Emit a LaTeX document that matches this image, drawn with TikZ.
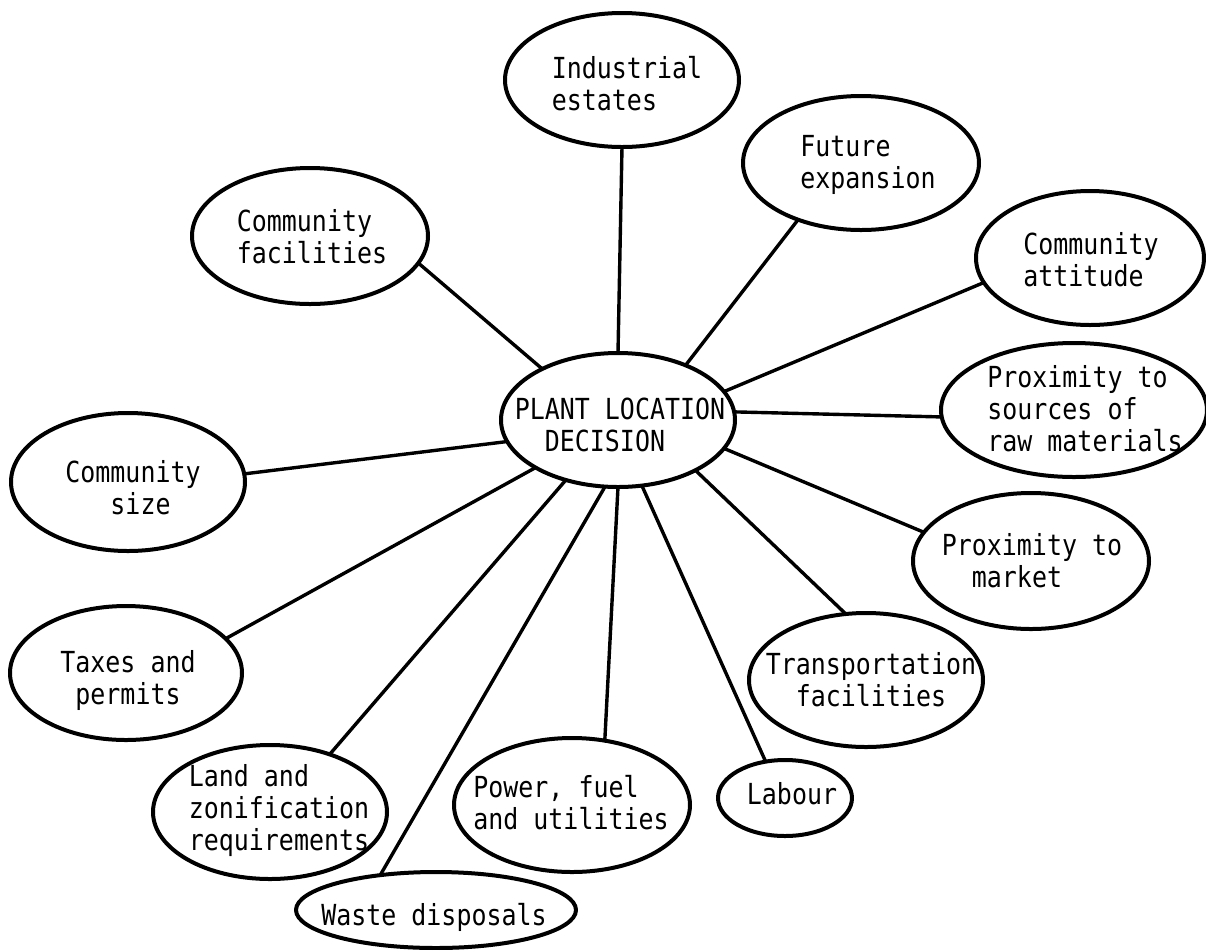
\documentclass[tikz,border=0pt]{standalone}
\usepackage{fontspec}
\newfontfamily\typefont[FakeStretch=0.86]{DejaVu Sans Mono}
\usetikzlibrary{shapes.geometric}

\tikzset{
  blob/.style 2 args={ellipse, draw, line width=2pt, inner sep=0pt, outer sep=0pt,
    minimum width=#1pt, minimum height=#2pt},
  txt/.style={align=left, inner sep=0pt, font=\typefont\fontsize{14.5}{16}\selectfont},
  link/.style={line width=1.7pt}
}

\begin{document}
\begin{tikzpicture}[line cap=round, line join=round, x=0.5pt, y=-0.5pt]
  \useasboundingbox (0,0) rectangle (1206,949);
  % the decision in the middle
  \node[blob={117}{67}] (ctr) at (618,420) {};
  \node[txt] (ctr-t) at (620,425) {PLANT LOCATION\\\phantom{xx}DECISION};
  % factors around it, clockwise from the top
  \node[blob={117}{67}] (ind) at (622,80) {};
  \node[txt] (ind-t) at (627,84) {Industrial\\estates};
  \node[blob={118}{67}] (fut) at (861,163) {};
  \node[txt] (fut-t) at (868,165) {Future\\expansion};
  \node[blob={114}{67}] (att) at (1090,258) {};
  \node[txt] (att-t) at (1091,260) {Community\\attitude};
  \node[blob={133}{67}] (raw) at (1074,410) {};
  \node[txt] (raw-t) at (1085,409) {Proximity to\\sources of\\raw materials};
  \node[blob={118}{68}] (mkt) at (1031,561) {};
  \node[txt] (mkt-t) at (1032,561) {Proximity to\\\phantom{xx}market};
  \node[blob={117}{67}] (trn) at (866,680) {};
  \node[txt] (trn-t) at (871,680) {Transportation\\\phantom{xx}facilities};
  \node[blob={67}{38}] (lab) at (785,798) {};
  \node[txt] (lab-t) at (792,794) {Labour};
  \node[blob={118}{67}] (pow) at (572,805) {};
  \node[txt] (pow-t) at (571,803) {Power, fuel\\and utilities};
  \node[blob={140}{38}] (wst) at (436,910) {};
  \node[txt] (wst-t) at (434,917) {Waste disposals};
  \node[blob={117}{67}] (lnd) at (270,812) {};
  \node[txt] (lnd-t) at (279,811) {Land and\\zonification\\requirements};
  \node[blob={116}{67}] (tax) at (126,673) {};
  \node[txt] (tax-t) at (128,680) {Taxes and\\\phantom{x}permits};
  \node[blob={117}{69}] (siz) at (128,482) {};
  \node[txt] (siz-t) at (133,488) {Community\\\phantom{xxx}size};
  \node[blob={118}{68}] (fac) at (310,236) {};
  \node[txt] (fac-t) at (312,237) {Community\\facilities};
  % spokes
  \foreach \a/\b in {ind.south/ctr.north, fac.346/ctr.146, fut.222/ctr.39,
      att.193/ctr.15, raw.183/ctr.4, mkt.165/ctr.345, trn.107/ctr.327,
      lab.118/ctr.290, pow.63/ctr.south, wst.148/ctr.259, lnd.44/ctr.229,
      tax.19/ctr.210, siz.4/ctr.191} {
    \draw[link] (\a) -- (\b);
  }
\end{tikzpicture}
\end{document}
